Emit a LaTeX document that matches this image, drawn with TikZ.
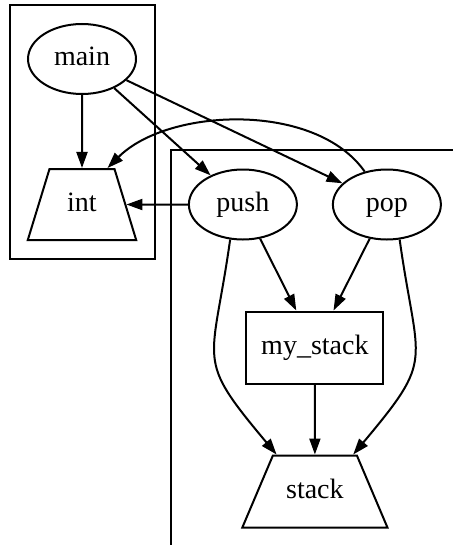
\documentclass[tikz,border=0pt]{standalone}
\usepackage{fontspec}
\setmainfont{Liberation Serif}
\usetikzlibrary{positioning,shapes.geometric,fit,arrows.meta,calc}

\begin{document}
\begin{tikzpicture}[x=1pt,y=1pt,line width=1pt,>={Triangle[length=8pt,width=5.5pt]},
		font=\fontsize{14}{16}\selectfont,
		txt/.style={text height=9.7pt,text depth=2.9pt},
		fn/.style={txt,draw,ellipse,minimum width=54pt,minimum height=35pt,inner sep=0pt},
		ty/.style={txt,draw,trapezium,align=center,inner xsep=0pt},
		var/.style={txt,draw,rectangle,minimum width=68.5pt,minimum height=36pt}]

		\useasboundingbox (0,0) rectangle (226,-272.5);

		%the caller and its type
		\node[fn] (main) at (41,-29.5) {main};
		\node[ty,below=36.5pt of main,trapezium angle=73,text width=32.5pt,inner ysep=11.45pt] (int) {int};
		\node[draw,fit=(main)(int),inner xsep=8.75pt,inner ysep=9pt] (mainbox) {};

		%the stack module
		\node[fn,right=30.75pt of int] (push) {push};
		\node[fn,right=17pt of push] (pop) {pop};
		\coordinate (mid) at ($(push.south)!0.5!(pop.south)$);
		\node[var,below=35pt of mid] (mystack) {my\_stack};
		\node[ty,below=35pt of mystack,trapezium angle=67,text width=42pt,inner ysep=11.7pt] (stack) {stack};
		\draw (85.5,-285) |- (240,-75);

		% calls and uses
		\draw[->] (main) -- (int);
		\draw[->] (main) -- (push);
		\draw[->] (main) -- (pop);
		\draw[->] (push) -- (int);
		\draw[->] (pop.124) to[out=125,in=45,looseness=0.85] (int.55);
		\draw[->] (push) -- (mystack);
		\draw[->] (pop) -- (mystack);
		\draw[->] (mystack) -- (stack);
		\draw[->] (push.250) to[out=-98,in=130,looseness=1.5] (stack.136);
		\draw[->] (pop.290) to[out=-82,in=50,looseness=1.5] (stack.44);

	\end{tikzpicture}
\end{document}
